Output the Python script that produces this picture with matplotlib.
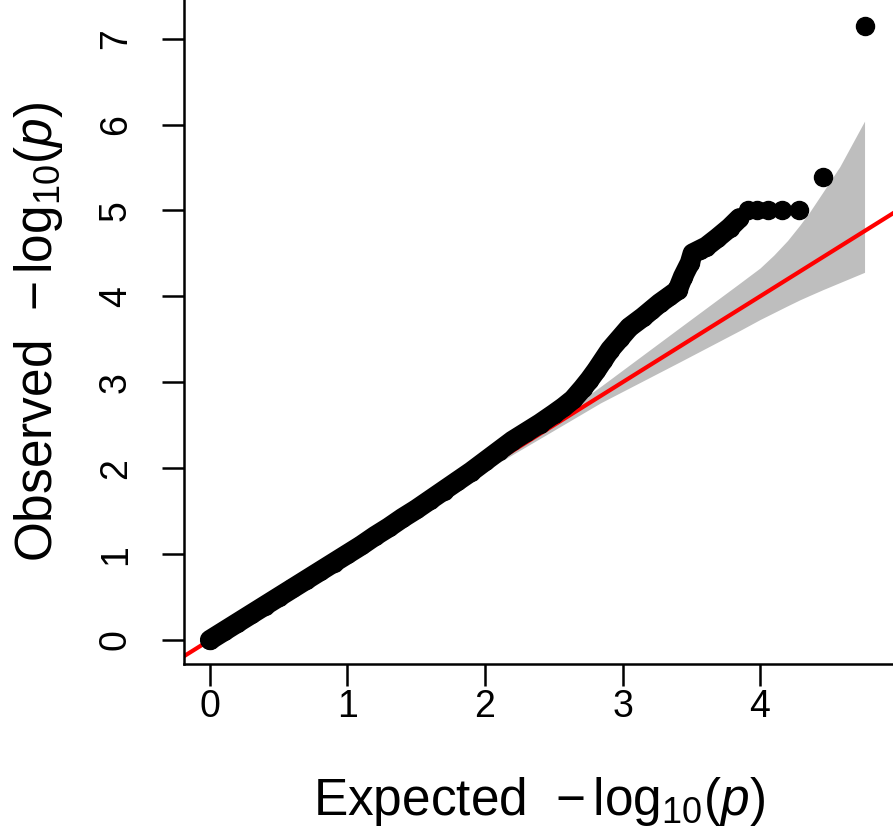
import numpy as np
import matplotlib
matplotlib.use('Agg')
import matplotlib.pyplot as plt

plt.rcParams['font.family'] = ['Liberation Sans', 'DejaVu Sans']
plt.rcParams['mathtext.fontset'] = 'custom'
plt.rcParams['mathtext.rm'] = 'Liberation Sans'
plt.rcParams['mathtext.it'] = 'Liberation Sans:italic'

# observed vs expected -log10(p) (continuous part)
exp_band = [0.00, 0.10, 0.20, 0.30, 0.40, 0.50, 0.60, 0.70, 0.80, 0.90,
            1.00, 1.10, 1.20, 1.30, 1.40, 1.50, 1.60, 1.70, 1.80, 1.90,
            2.00, 2.10, 2.20, 2.30, 2.40, 2.50, 2.57, 2.64, 2.71, 2.76,
            2.81, 2.86, 2.91, 2.98, 3.05, 3.15, 3.21, 3.27, 3.34, 3.40,
            3.44, 3.49, 3.51, 3.56, 3.61, 3.69, 3.78, 3.85]
obs_band = [0.00, 0.10, 0.20, 0.30, 0.40, 0.50, 0.60, 0.70, 0.80, 0.90,
            1.00, 1.10, 1.21, 1.31, 1.42, 1.52, 1.63, 1.74, 1.85, 1.96,
            2.08, 2.20, 2.32, 2.42, 2.52, 2.63, 2.71, 2.80, 2.93, 3.03,
            3.14, 3.26, 3.38, 3.51, 3.64, 3.76, 3.84, 3.92, 4.00, 4.07,
            4.23, 4.39, 4.50, 4.54, 4.58, 4.68, 4.80, 4.91]

# top tail, single points
exp_tail = [3.91, 3.98, 4.06, 4.16, 4.28, 4.46, 4.76]
obs_tail = [5.00, 5.00, 5.00, 5.00, 5.00, 5.39, 7.15]

# 95% confidence band
ci_x = [0.00, 1.00, 2.00, 2.50, 2.84, 3.42, 3.85, 4.00, 4.10, 4.20,
        4.29, 4.36, 4.46, 4.58, 4.76]
ci_lo = [0.00, 0.98, 1.97, 2.44, 2.76, 3.24, 3.60, 3.73, 3.81, 3.89,
         3.96, 4.01, 4.08, 4.16, 4.28]
ci_hi = [0.00, 1.02, 2.04, 2.56, 2.95, 3.64, 4.15, 4.33, 4.48, 4.65,
         4.83, 4.98, 5.22, 5.51, 6.04]

fig = plt.figure(figsize=(8.93, 8.34), dpi=100)
ax = fig.add_axes([0.206, 0.2038, 0.794, 0.7962])

ax.fill_between(ci_x, ci_lo, ci_hi, color='#bebebe', lw=0, zorder=1)
ax.axline((0, 0), slope=1, color='#ff0000', lw=3, zorder=2)

ax.plot(exp_band, obs_band, color='black', lw=14.5, solid_capstyle='round',
        solid_joinstyle='round', zorder=3)
ax.plot(exp_band, obs_band, 'o', color='black', ms=13, zorder=3)
ax.plot(exp_tail, obs_tail, 'o', color='black', ms=13, zorder=3)

ax.set_xlim(-0.189, 4.967)
ax.set_ylim(-0.28, 7.45)
ax.set_xticks([0, 1, 2, 3, 4])
ax.set_yticks([0, 1, 2, 3, 4, 5, 6, 7])

for s in ['top', 'right']:
    ax.spines[s].set_visible(False)
for s in ['left', 'bottom']:
    ax.spines[s].set_linewidth(1.8)

ax.tick_params(axis='both', direction='out', length=16, width=1.8,
               labelsize=27)
ax.tick_params(axis='x', pad=2)
ax.tick_params(axis='y', pad=20, labelrotation=90)
for lab in ax.get_yticklabels():
    lab.set_verticalalignment('center')

ax.set_xlabel(r'Expected  $-\,\mathrm{log}_{10}(\mathit{p})$', fontsize=37, labelpad=36)
ax.set_ylabel(r'Observed  $-\,\mathrm{log}_{10}(\mathit{p})$', fontsize=37, labelpad=24)

fig.savefig('out.png', dpi=100)
